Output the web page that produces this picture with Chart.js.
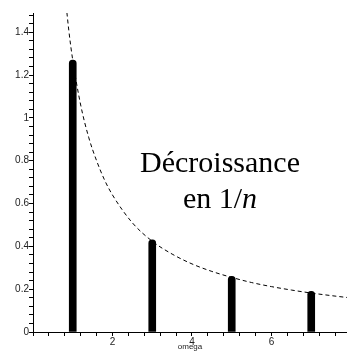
<!DOCTYPE html>
<html>
<head>
<meta charset="utf-8">
<script src="https://cdn.jsdelivr.net/npm/chart.js@4"></script>
<style>
  body { margin: 0; background: #fff; }
  #wrap { position: relative; width: 347px; height: 352px; }
  #note {
    position: absolute; left: 120px; top: 144px; width: 200px;
    text-align: center; font-family: "Liberation Serif", serif;
    font-size: 30px; line-height: 36px; color: #000;
  }
</style>
</head>
<body>
<div id="wrap">
  <canvas id="chart" width="347" height="352"></canvas>
  <div id="note">Décroissance<br>en 1/<i>n</i></div>
</div>
<script>
// harmonics (odd n) and their amplitudes
const harmonics = [1, 3, 5, 7];
const amplitudes = [1.27, 0.43, 0.26, 0.19];

// dashed envelope
const envX = [0.8, 0.9, 1, 1.2, 1.4, 1.6, 1.8, 2, 2.5, 3, 3.5, 4, 4.5, 5, 5.5, 6, 6.5, 7, 7.5, 8];
const envY = [1.59, 1.41, 1.27, 1.06, 0.91, 0.80, 0.71, 0.64, 0.51, 0.424, 0.364, 0.318, 0.283, 0.255, 0.231, 0.212, 0.196, 0.182, 0.170, 0.159];

const xLabels = ['2', '4', '6'];
const yLabels = ['0', '0.2', '0.4', '0.6', '0.8', '1', '1.2', '1.4'];

function isMultiple(v, step) {
    return Math.abs(v / step - Math.round(v / step)) < 1e-6;
}

const ctx = document.getElementById('chart').getContext('2d');
new Chart(ctx, {
    type: 'bar',
    data: {
        datasets: [{
            type: 'line',
            data: envX.map((x, i) => ({ x: x, y: envY[i] })),
            borderColor: '#000',
            borderWidth: 1,
            borderDash: [4, 3],
            pointRadius: 0,
            cubicInterpolationMode: 'monotone',
            fill: false
        }, {
            data: harmonics.map((n, i) => ({ x: n, y: amplitudes[i] })),
            backgroundColor: '#000',
            barThickness: 7,
            borderRadius: { topLeft: 3.5, topRight: 3.5, bottomLeft: 0, bottomRight: 0 }
        }]
    },
    options: {
        responsive: false,
        animation: false,
        layout: { padding: { top: 13, right: 0, left: 0, bottom: 0 } },
        plugins: { legend: { display: false }, tooltip: { enabled: false } },
        scales: {
            x: {
                type: 'linear',
                min: 0,
                max: 7.9,
                offset: false,
                afterFit: s => { s.height = 20; },
                afterBuildTicks: s => {
                    const t = [];
                    for (let k = 0; k <= 19; k++) t.push({ value: k * 0.4 });
                    s.ticks = t;
                },
                grid: { drawOnChartArea: false, color: '#000', lineWidth: 1, tickLength: 4, offset: false },
                border: { color: '#000', width: 1 },
                ticks: {
                    autoSkip: false,
                    maxRotation: 0,
                    padding: 0,
                    color: '#222',
                    font: { family: 'Liberation Sans', size: 10 },
                    callback: v => {
                        const s = String(Math.round(v));
                        return (v > 0 && isMultiple(v, 2) && xLabels.includes(s)) ? s : '';
                    }
                },
                title: {
                    display: true,
                    text: 'omega',
                    color: '#222',
                    font: { family: 'Liberation Sans', size: 8 },
                    padding: { top: 0, bottom: 0 }
                }
            },
            y: {
                min: 0,
                max: 1.49,
                afterFit: s => { s.width = 33; },
                afterBuildTicks: s => {
                    const t = [];
                    for (let k = 0; k <= 37; k++) t.push({ value: k * 0.04 });
                    s.ticks = t;
                },
                grid: { drawOnChartArea: false, color: '#000', lineWidth: 1, tickLength: 4 },
                border: { color: '#000', width: 1 },
                ticks: {
                    autoSkip: false,
                    padding: 0,
                    color: '#222',
                    font: { family: 'Liberation Sans', size: 10 },
                    callback: v => {
                        if (!isMultiple(v, 0.2)) return '';
                        const s = String(Math.round(v * 5) / 5);
                        return yLabels.includes(s) ? s : '';
                    }
                }
            }
        }
    }
});
</script>
</body>
</html>
